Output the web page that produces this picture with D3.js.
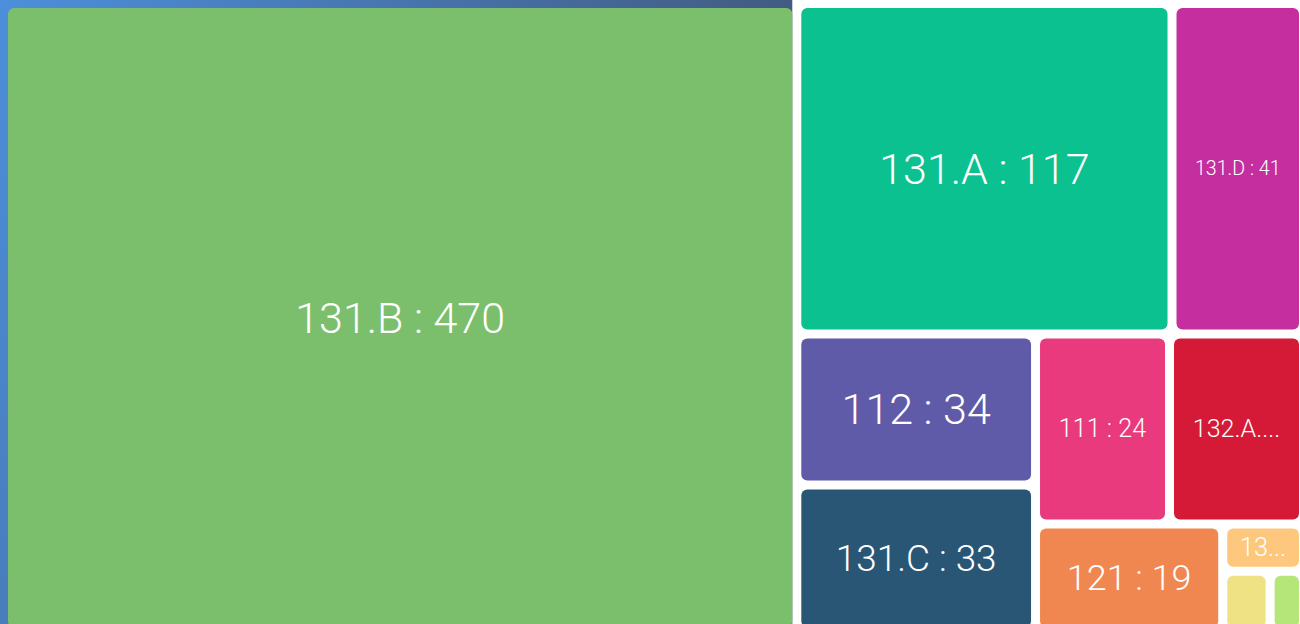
<!DOCTYPE html>
<html>
<head>
<meta charset="utf-8">
<script src="https://cdn.jsdelivr.net/npm/d3@7"></script>
<style>
  html, body { margin: 0; padding: 0; background: #ffffff; overflow: hidden; }
  svg { display: block; }
</style>
</head>
<body>
<svg id="chart"></svg>
<script>
// data
const names  = ["131.B", "131.A", "131.D", "112", "131.C", "111", "132.A", "121", "133", "132.B", "132.C"];
const values = [470, 117, 41, 34, 33, 24, 24, 19, 3.6, 2.7, 1.9];
// what the tile shows (truncated where the original cuts the label, null = no label)
const shown  = ["131.B : 470", "131.A : 117", "131.D : 41", "112 : 34", "131.C : 33", "111 : 24",
                "132.A....", "121 : 19", "13...", null, null];
const colors = ["#7bbf6d", "#0bc190", "#c52e9f", "#605ba8", "#2a5676", "#e83a7c",
                "#d41a36", "#f18750", "#fdc87e", "#efe285", "#b5e67a"];

const width = 1300, height = 624;
const svg = d3.select("#chart").attr("width", width).attr("height", height);

// blue panel behind the big tile
const defs = svg.append("defs");
const grad = defs.append("linearGradient")
    .attr("id", "bg")
    .attr("x1", "0").attr("y1", "0").attr("x2", "1").attr("y2", "0.35");
grad.append("stop").attr("offset", "0%").attr("stop-color", "#4d8fdb");
grad.append("stop").attr("offset", "100%").attr("stop-color", "#415576");

const data = {
    name: "root",
    children: names.map((n, i) => ({name: n, value: values[i], label: shown[i], color: colors[i]}))
};

const root = d3.hierarchy(data)
    .sum(d => d.value || 0)
    .sort((a, b) => b.value - a.value);

d3.treemap()
    .tile(d3.treemapSquarify.ratio(1.12))
    .size([1291, 619])
    .paddingInner(9)(root);

const leaves = root.leaves();
const big = leaves[0];

svg.append("rect")
    .attr("x", 0).attr("y", 0)
    .attr("width", big.x1 + 8)
    .attr("height", height)
    .attr("fill", "url(#bg)");

const g = svg.append("g").attr("transform", "translate(8,8)");

const cell = g.selectAll("g.cell")
    .data(leaves)
    .join("g")
    .attr("class", "cell")
    .attr("transform", d => `translate(${d.x0},${d.y0})`);

cell.append("rect")
    .attr("width", d => d.x1 - d.x0)
    .attr("height", d => d.y1 - d.y0)
    .attr("rx", 6).attr("ry", 6)
    .attr("fill", d => d.data.color);

// labels: fit to ~70% of the tile width, capped
cell.filter(d => d.data.label)
    .append("text")
    .attr("x", d => (d.x1 - d.x0) / 2)
    .attr("y", d => (d.y1 - d.y0) / 2)
    .attr("text-anchor", "middle")
    .attr("dominant-baseline", "central")
    .attr("fill", "#ffffff")
    .style("font-family", "Roboto, 'Open Sans', sans-serif")
    .style("font-weight", 300)
    .style("font-size", "10px")
    .text(d => d.data.label)
    .each(function(d) {
        const w10 = this.getComputedTextLength();
        const w = d.x1 - d.x0, h = d.y1 - d.y0;
        let fs = 10 * 0.7 * w / w10;
        fs = Math.min(fs, 43, h * 0.66);
        fs = Math.max(fs, 18);
        d3.select(this).style("font-size", fs + "px");
    });
</script>
</body>
</html>
